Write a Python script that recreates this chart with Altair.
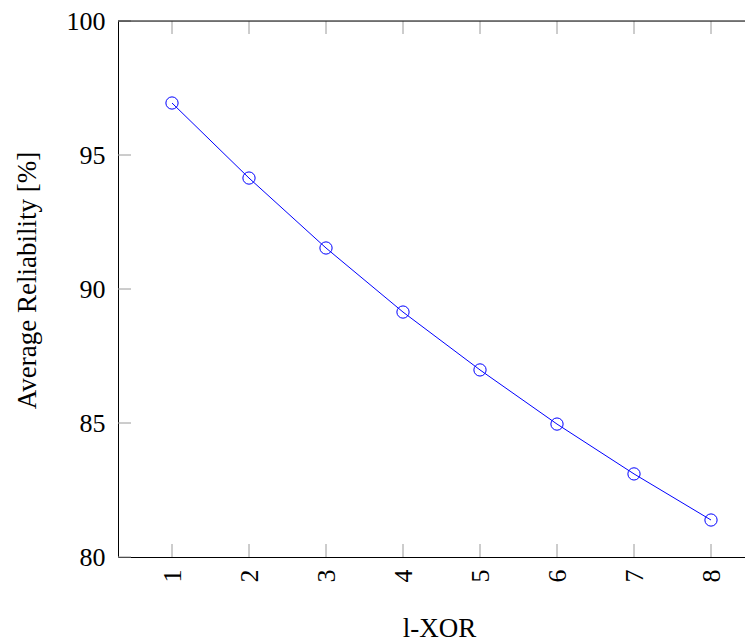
import altair as alt
import pandas as pd

# Data
l_xor = [1, 2, 3, 4, 5, 6, 7, 8]
reliability = [96.94, 94.14, 91.53, 89.14, 86.98, 84.96, 83.10, 81.38]
x_ticks = [1, 2, 3, 4, 5, 6, 7, 8]
y_ticks = [80, 85, 90, 95, 100]

W, H = 627, 536
TICK = 13
FONT = "Liberation Serif"
BLUE = "#0000ff"
TICK_COLOR = "#9a9a9a"
STEP = 77.0
X0 = 1 - 54 / STEP

df = pd.DataFrame({"l": l_xor, "r": reliability})
xt = pd.DataFrame({"t": x_ticks})
yt = pd.DataFrame({"t": y_ticks})

xscale = alt.Scale(domain=[X0, X0 + W / STEP], nice=False, zero=False)
yscale = alt.Scale(domain=[80, 100], nice=False, zero=False)

xaxis = alt.Axis(
    values=x_ticks, ticks=False, domain=True, domainColor="black", domainWidth=1,
    grid=False,
    labelAngle=270, labelPadding=12, labelFontSize=26, labelFont=FONT,
    labelColor="black", labelOverlap=False, labelFlush=False,
    title="l-XOR", titleFont=FONT, titleFontSize=27, titleFontWeight="normal",
    titleColor="black", titleX=321, titleY=79, titleBaseline="alphabetic",
    titleAlign="center",
)
yaxis = alt.Axis(
    values=y_ticks, ticks=False, domain=True, domainColor="black", domainWidth=1,
    grid=False,
    labelPadding=13, labelFontSize=26, labelFont=FONT, labelColor="black",
    labelOverlap=False, labelFlush=False,
    title="Average Reliability [%]", titleFont=FONT, titleFontSize=27,
    titleFontWeight="normal", titleColor="black", titleX=-83, titleY=259,
    titleAngle=270, titleBaseline="alphabetic", titleAlign="center",
)

X = lambda f: alt.X(f, scale=xscale, axis=xaxis, title="l-XOR")
Y = lambda f: alt.Y(f, scale=yscale, axis=yaxis, title="Average Reliability [%]")

base = alt.Chart(df)
line = base.mark_line(color=BLUE, strokeWidth=1).encode(x=X("l:Q"), y=Y("r:Q"))
points = base.mark_point(shape="circle", filled=False, color=BLUE, size=150,
                         strokeWidth=1, opacity=1).encode(x=X("l:Q"), y=Y("r:Q"))

xt_bottom = alt.Chart(xt).mark_rule(color=TICK_COLOR, strokeWidth=1).encode(
    x=X("t:Q"), y=alt.value(H), y2=alt.value(H - TICK))
xt_top = alt.Chart(xt).mark_rule(color=TICK_COLOR, strokeWidth=1).encode(
    x=X("t:Q"), y=alt.value(0), y2=alt.value(TICK))
yt_left = alt.Chart(yt).mark_rule(color=TICK_COLOR, strokeWidth=1).encode(
    y=Y("t:Q"), x=alt.value(0), x2=alt.value(TICK))
top_border = alt.Chart(pd.DataFrame({"t": [100]})).mark_rule(
    color="black", strokeWidth=1).encode(y=Y("t:Q"))

chart = alt.layer(line, points, xt_bottom, xt_top, yt_left, top_border).properties(
    width=W, height=H,
    autosize=alt.AutoSizeParams(type="none"),
    padding={"left": 110, "top": 13, "right": 0, "bottom": 92},
).configure_view(stroke=None).configure(background="white")

chart.save("out.html", embed_options={"renderer": "svg", "actions": False})
